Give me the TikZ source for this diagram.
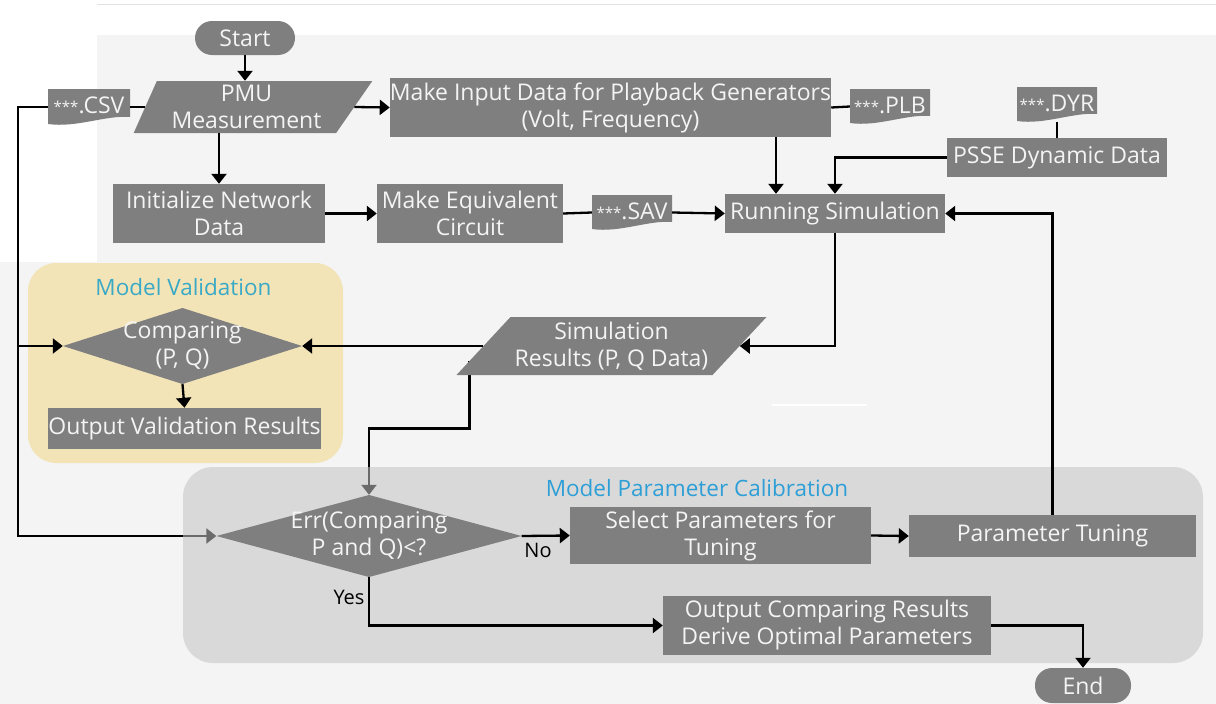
\documentclass[tikz,border=0pt]{standalone}
\usepackage{fontspec}
\setmainfont{Open Sans}
\usetikzlibrary{shapes.geometric,arrows.meta,calc}

\definecolor{boxgray}{HTML}{7F7F7F}
\definecolor{canvasbg}{HTML}{F4F4F4}
\definecolor{valfill}{HTML}{F3E4B8}
\definecolor{calfill}{HTML}{C3C3C3}
\definecolor{titleblue}{HTML}{2E9FD6}
\definecolor{titleteal}{HTML}{3AA9C6}
\definecolor{boxtext}{HTML}{F4F4F4}
\definecolor{rulegray}{HTML}{E2E2E2}

\newcommand\filestars{{\fontsize{15}{15}\selectfont\raisebox{1pt}{***}}}

\pgfdeclarelayer{canvas}
\pgfdeclarelayer{under}
\pgfdeclarelayer{regions}
\pgfsetlayers{canvas,under,regions,main}

\tikzset{
  base/.style={text=boxtext, font=\fontsize{23}{27}\selectfont, inner sep=0pt, align=center},
  procbox/.style={base, rectangle, fill=boxgray},
  pill/.style={procbox, rounded corners=17pt},
  iobox/.style={base, trapezium, trapezium stretches=true, fill=boxgray},
  decision/.style={base, rectangle, path picture={
      \fill[boxgray] (path picture bounding box.west) -- (path picture bounding box.north)
        -- (path picture bounding box.east) -- (path picture bounding box.south) -- cycle;}},
  docfile/.style={base, rectangle, path picture={
      \fill[boxgray] let \p1=(path picture bounding box.north west),
                         \p2=(path picture bounding box.south east) in
        (\x1,\y1) -- (\x2,\y1) -- (\x2,{\y2+8pt})
        .. controls ({\x1+0.7*(\x2-\x1)},{\y2+10pt}) and ({\x1+0.35*(\x2-\x1)},{\y2-3pt}) ..
        (\x1,{\y2+1pt}) -- cycle;}},
  title/.style={font=\fontsize{22.5}{27}\selectfont, inner sep=0pt},
  lbl/.style={font=\fontsize{20}{24}\selectfont, text=black, inner sep=0pt},
  arr/.style={line width=2.3pt, -{Triangle[length=10pt,width=15pt]}},
  link/.style={line width=2.3pt},
}

\begin{document}
\begin{tikzpicture}[x=1pt,y=-1pt]
\useasboundingbox (0,0) rectangle (1216,704);

% page background
\begin{pgfonlayer}{canvas}
  \fill[white] (0,0) rectangle (1216,704);
  \fill[canvasbg] (97,35) rectangle (1216,704);
  \fill[canvasbg] (0,262) rectangle (97,704);
  \draw[rulegray, line width=1pt] (97,4) -- (1216,4);
  \draw[white, line width=2pt] (772,405) -- (867,405);
\end{pgfonlayer}

% group panels
\begin{pgfonlayer}{regions}
  \fill[valfill, rounded corners=28pt] (28,263) rectangle (343,463);
  \fill[calfill, fill opacity=0.55, rounded corners=30pt] (183,467) rectangle (1203,663);
\end{pgfonlayer}
\node[title, text=titleteal] (mvtitle) at (183.5,287) {Model Validation};
\node[title, text=titleblue] (mpctitle) at (697,488) {Model Parameter Calibration};

% top row
\node[pill, minimum width=100pt, minimum height=34pt] (start) at (245,38) {Start};
\node[iobox, trapezium left angle=66.1, trapezium right angle=124.7,
      minimum width=239pt, minimum height=52pt] (pmu) at (246.5,107) {PMU\\Measurement};
\node[docfile, minimum width=82pt, minimum height=36pt] (csv) at (89,107) {\raisebox{3pt}{\filestars.CSV}};
\node[procbox, minimum width=439pt, minimum height=59pt] (make) at (610.5,107.5)
  {Make Input Data for Playback Generators\\(Volt, Frequency)};
\node[docfile, minimum width=80pt, minimum height=35pt] (plb) at (890,106.5) {\raisebox{3pt}{\filestars.PLB}};
\node[docfile, minimum width=80pt, minimum height=35pt] (dyr) at (1057,104.5) {\raisebox{3pt}{\filestars.DYR}};
\node[procbox, minimum width=220pt, minimum height=39pt] (psse) at (1057,157.5) {PSSE Dynamic Data};

% second row
\node[procbox, minimum width=212pt, minimum height=59pt] (init) at (219,213.5) {Initialize Network\\Data};
\node[procbox, minimum width=186pt, minimum height=59pt] (eq) at (470,213.5) {Make Equivalent\\Circuit};
\node[docfile, minimum width=80pt, minimum height=35pt] (sav) at (632,212.5) {\raisebox{3pt}{\filestars.SAV}};
\node[procbox, minimum width=220pt, minimum height=39pt] (rs) at (835,213.5) {Running Simulation};

% validation
\node[decision, minimum width=239pt, minimum height=76pt] (cmp) at (182.5,346) {Comparing\\(P, Q)};
\node[procbox, minimum width=273pt, minimum height=41pt] (outv) at (184.5,428.5) {Output Validation Results};
\node[iobox, trapezium left angle=43.1, trapezium right angle=136.9,
      minimum width=311pt, minimum height=58pt] (sim) at (611.5,346) {Simulation\\Results (P, Q Data)};

% calibration
\node[decision, minimum width=305pt, minimum height=82pt] (err) at (369,536) {Err(Comparing\\P and Q)<?};
\node[procbox, minimum width=301pt, minimum height=57pt] (sel) at (720.5,535.5) {Select Parameters for\\Tuning};
\node[procbox, minimum width=287pt, minimum height=42pt] (tune) at (1052.5,536) {Parameter Tuning};
\node[procbox, minimum width=328pt, minimum height=59pt] (oc) at (827,625.5)
  {Output Comparing Results\\Derive Optimal Parameters};
\node[pill, minimum width=96pt, minimum height=35pt] (endn) at (1083,685.5) {End};
\node[lbl] (nolbl) at (538,550) {No};
\node[lbl] (yeslbl) at (349,597) {Yes};

% connectors
\coordinate (lbus) at (18,107);
\coordinate (simtap) at ($(sim.top left corner)!0.75!(sim.bottom left corner)$);

\begin{pgfonlayer}{under}
  \draw[arr] (csv.west) -- (lbus) |- (err.west);
  \draw[arr] (simtap) -- ++(0,68) -| (err.north);
\end{pgfonlayer}

\draw[arr] (start.south) -- (start.south |- pmu.top side);
\draw[link] (csv.east) -- (pmu.left side);
\draw[arr] (pmu.right side) -- (make.west);
\draw[link] (make.east) -- (plb.west);
\draw[arr] (init.north |- pmu.bottom side) -- (init.north);
\draw[arr] (init.east) -- (eq.west);
\draw[link] (eq.east) -- (sav.west);
\draw[arr] (sav.east) -- (rs.west);
\draw[arr] ([xshift=-59pt]rs.north |- make.south) -- ([xshift=-59pt]rs.north);
\draw[link] (dyr.south) -- (psse.north);
\draw[arr] (psse.west) -| (rs.north);
\draw[arr] (rs.south) |- (sim.right side);
\draw[arr] (sim.left side) -- (cmp.east);
\draw[arr] (lbus |- cmp.west) -- (cmp.west);
\draw[arr] (cmp.south) -- (outv.north);
\draw[arr] (err.east) -- (sel.west);
\draw[arr] (sel.east) -- (tune.west);
\draw[arr] (tune.north) |- (rs.east);
\draw[arr] (err.south) |- (oc.west);
\draw[arr] (oc.east) -| (endn.north);
\end{tikzpicture}
\end{document}
